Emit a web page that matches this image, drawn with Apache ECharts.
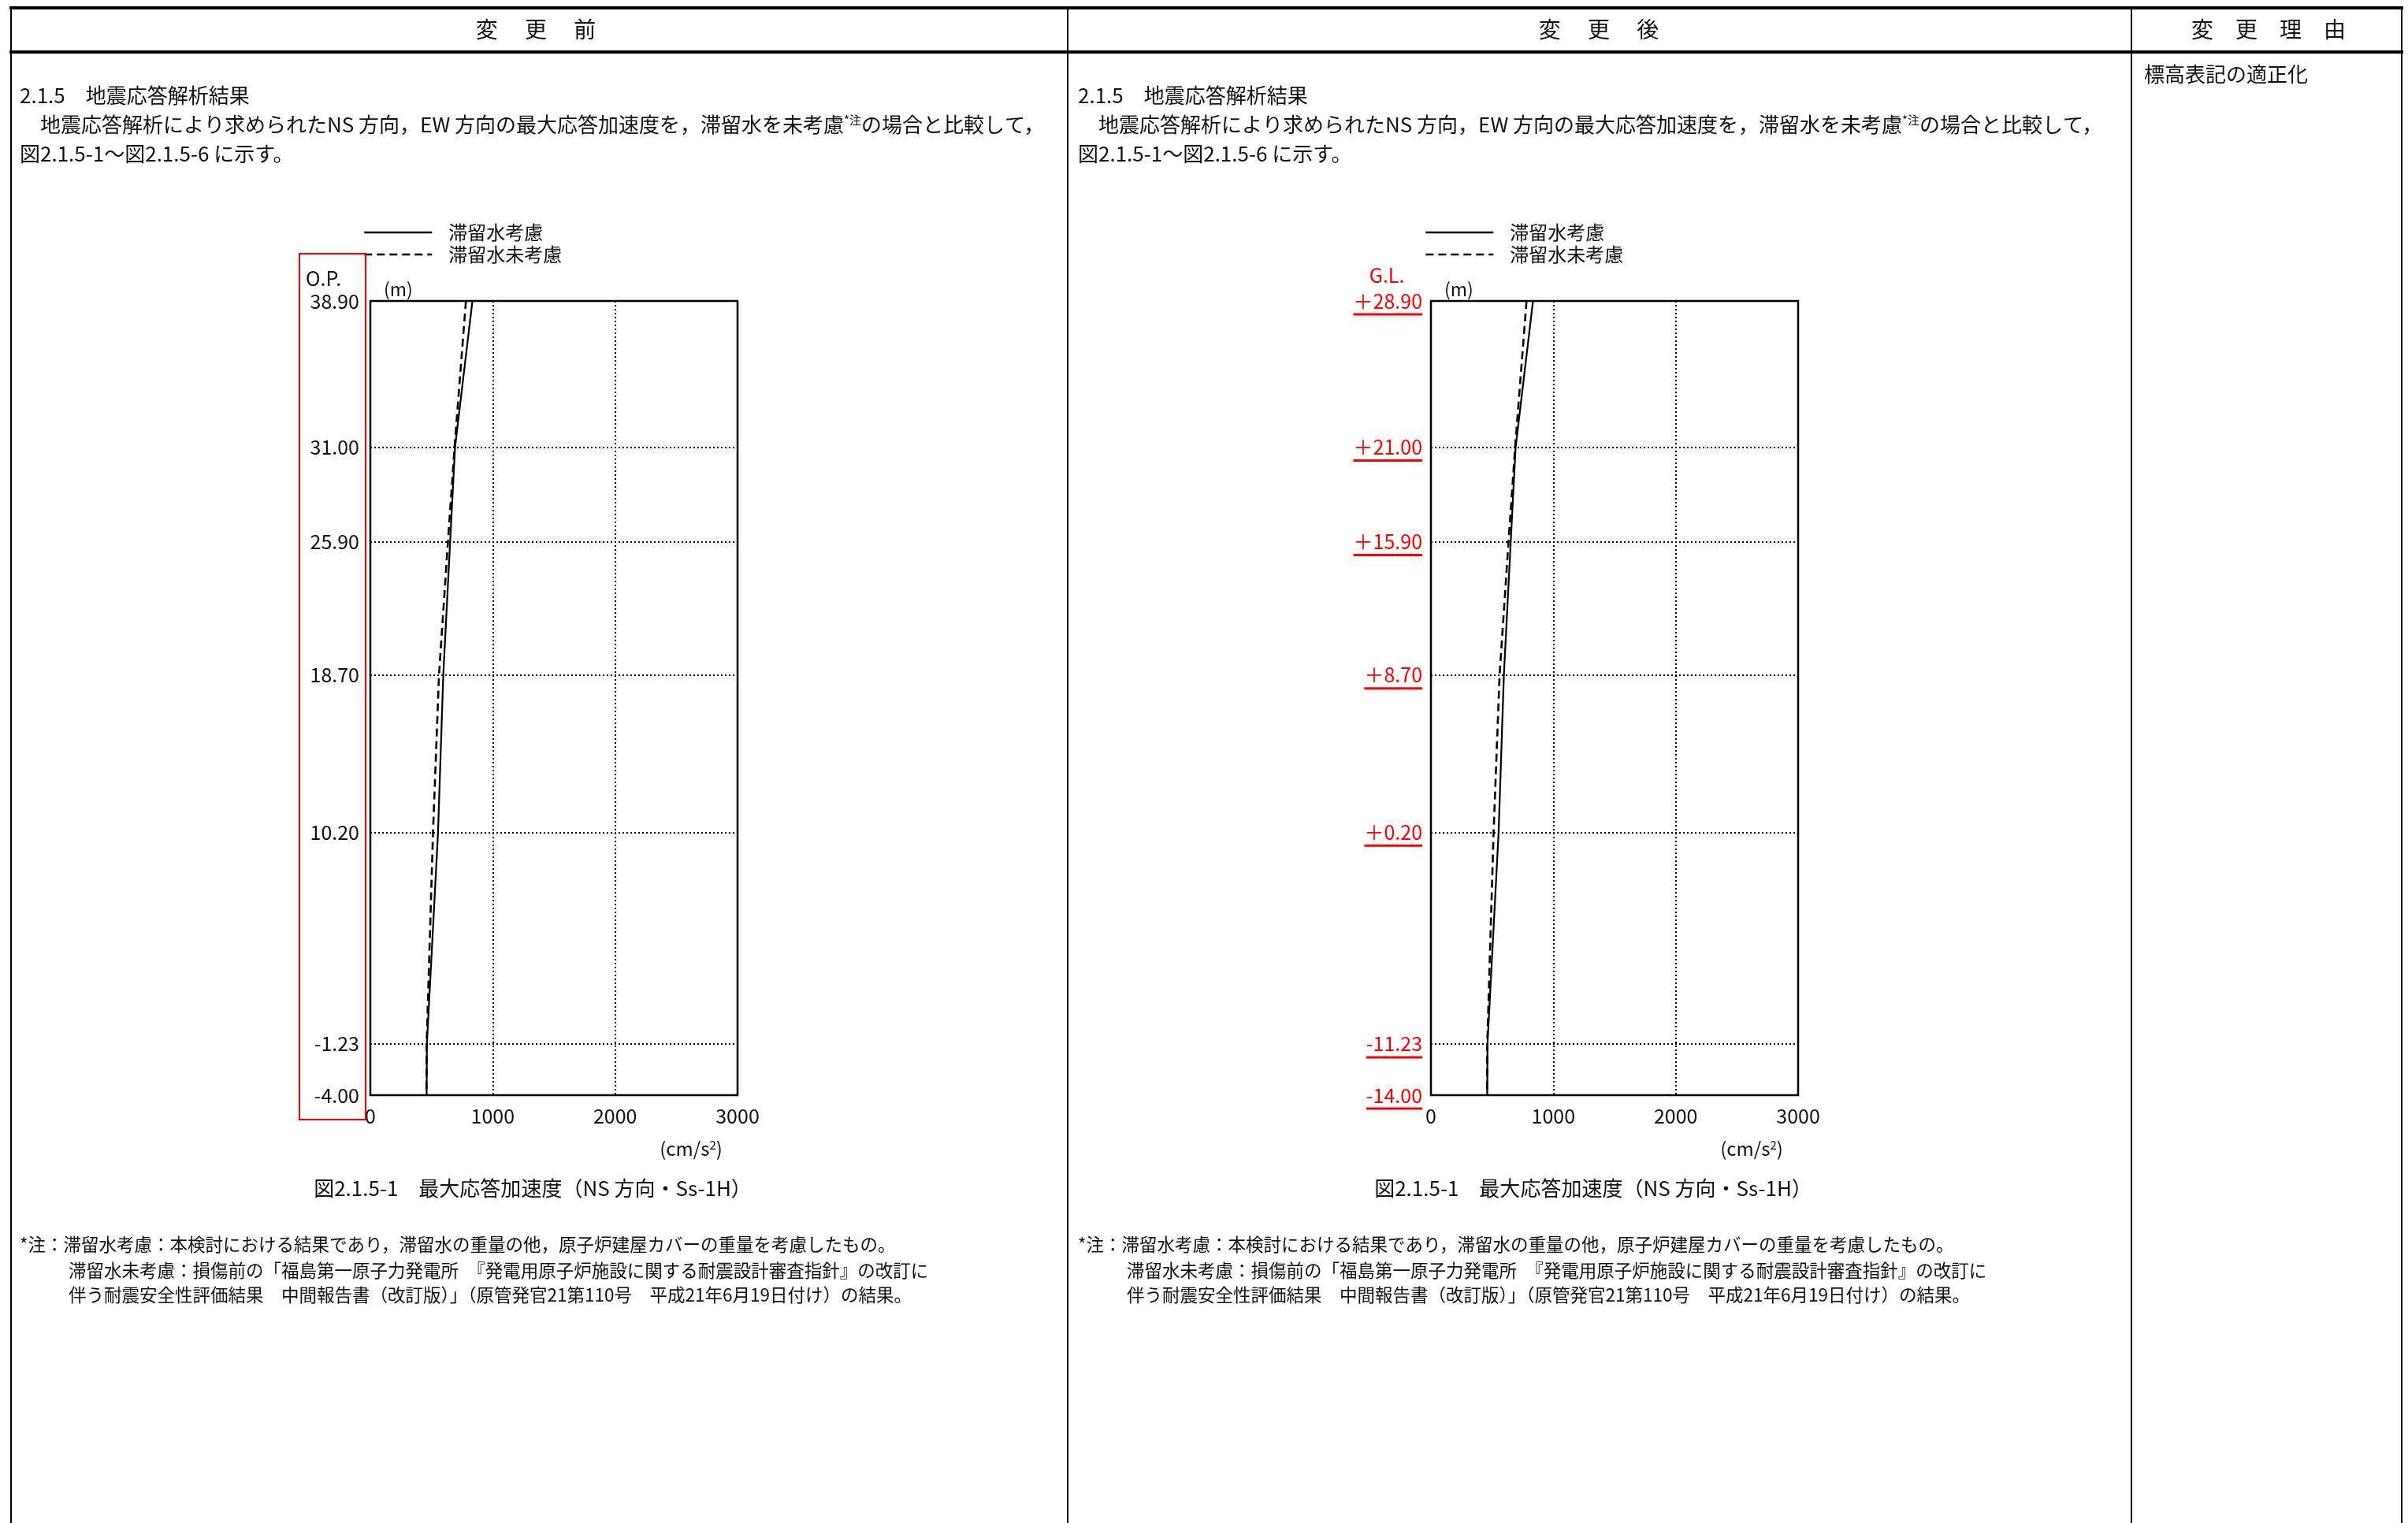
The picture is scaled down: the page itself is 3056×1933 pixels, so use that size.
<!DOCTYPE html>
<html>
<head>
<meta charset="utf-8">
<script src="https://cdn.jsdelivr.net/npm/echarts@6/dist/echarts.min.js"></script>
<style>
html,body{margin:0;padding:0;background:#fff;}
#main{width:3056px;height:1933px;}
</style>
</head>
<body>
<div id="main"></div>
<script>
// ---- data ----
const seriesNames = ['滞留水考慮', '滞留水未考慮'];
const levelsOP = [38.90, 31.00, 25.90, 18.70, 10.20, -1.23, -4.00];   // 変更前 (O.P.)
const levelsGL = [28.90, 21.00, 15.90, 8.70, 0.20, -11.23, -14.00];   // 変更後 (G.L.)
const accelWith = [834, 692, 652, 596, 553, 462, 460];     // 滞留水考慮 (cm/s2)
const accelWithout = [781, 688, 634, 561, 512, 460, 458];  // 滞留水未考慮 (cm/s2)
const xTicks = [0, 1000, 2000, 3000];

const FONT = "'Noto Sans CJK JP', 'Noto Sans', sans-serif";
const chart = echarts.init(document.getElementById('main'), null, {renderer: 'canvas'});

function pairs(xs, ys) { return xs.map((x, i) => [x, ys[i]]); }

const GRIDS = [
  {left: 470, top: 382, width: 466, height: 1008},
  {left: 1816, top: 382, width: 466, height: 1008}
];

function fmtOP(v) { return v.toFixed(2); }
function fmtGL(v) {
  const s = Math.abs(v).toFixed(2);
  return v >= 0 ? '＋' + s : '-' + s;
}

function buildAxes(i, levels, red) {
  const x = {
    type: 'value', gridIndex: i, min: xTicks[0], max: xTicks[xTicks.length - 1], interval: 1000,
    axisLine: {show: false}, axisTick: {show: false},
    axisLabel: {fontFamily: FONT, fontSize: 25, color: '#111', margin: 14, formatter: v => String(v)},
    splitLine: {show: true, lineStyle: {color: '#000', type: [2, 3], width: 2}}
  };
  const y = {
    type: 'value', gridIndex: i, min: levels[levels.length - 1], max: levels[0],
    axisLine: {show: false}, axisTick: {show: false}, splitLine: {show: false},
    axisLabel: red ? {
      customValues: levels, margin: 11, fontFamily: FONT, padding: [6, 0, 0, 0],
      formatter: v => '{t|' + fmtGL(v) + '}\n{u|}',
      rich: {
        t: {fontFamily: FONT, fontSize: 25, color: '#ff0000', lineHeight: 28, align: 'right'},
        u: {height: 3, width: '100%', backgroundColor: '#ff0000', lineHeight: 6}
      }
    } : {
      customValues: levels, margin: 14, fontFamily: FONT, fontSize: 25, color: '#111',
      formatter: v => fmtOP(v)
    }
  };
  return {x, y};
}

const a0 = buildAxes(0, levelsOP, false);
const a1 = buildAxes(1, levelsGL, true);

function buildSeries(i, levels) {
  const gridLevels = levels.slice(1, levels.length - 1);
  return [
    {
      name: seriesNames[0], type: 'line', xAxisIndex: i, yAxisIndex: i,
      data: pairs(accelWith, levels), symbol: 'none', showSymbol: false,
      lineStyle: {color: '#000', width: 2.2, type: 'solid'}, itemStyle: {color: '#000'},
      z: 3, silent: true,
      markLine: {
        silent: true, symbol: 'none', label: {show: false},
        lineStyle: {color: '#000', type: [2, 3], width: 2},
        data: gridLevels.map(v => ({yAxis: v}))
      }
    },
    {
      name: seriesNames[1], type: 'line', xAxisIndex: i, yAxisIndex: i,
      data: pairs(accelWithout, levels), symbol: 'none', showSymbol: false,
      lineStyle: {color: '#000', width: 2.6, type: [10, 6]}, itemStyle: {color: '#000'},
      z: 3, silent: true
    }
  ];
}

function txt(x, y, text, opt) {
  opt = opt || {};
  return {
    type: 'text', x: x, y: y, silent: true,
    style: Object.assign({
      text: text, fontFamily: FONT, fontSize: 26, fill: '#111',
      align: 'left', verticalAlign: 'middle'
    }, opt)
  };
}
function line(x1, y1, x2, y2, w, color) {
  return {type: 'line', silent: true, shape: {x1, y1, x2, y2},
          style: {stroke: color || '#000', lineWidth: w}};
}

const supRich = {sup: {fontFamily: FONT, fontSize: 15, fill: '#111', verticalAlign: 'top', padding: [0, 0, 10, 0]}};
const bodyLine2 = '　地震応答解析により求められたNS 方向，EW 方向の最大応答加速度を，滞留水を未考慮{sup|*注}の場合と比較して，';

function columnTexts(x0) {
  const els = [];
  els.push(txt(x0, 121, '2.1.5　地震応答解析結果'));
  els.push(txt(x0, 158, bodyLine2, {rich: supRich}));
  els.push(txt(x0, 195, '図2.1.5-1～図2.1.5-6 に示す。'));
  // footnotes
  els.push(txt(x0, 1579, '*注：滞留水考慮：本検討における結果であり，滞留水の重量の他，原子炉建屋カバーの重量を考慮したもの。', {fontSize: 22.5}));
  els.push(txt(x0 + 62, 1612, '滞留水未考慮：損傷前の「福島第一原子力発電所　『発電用原子炉施設に関する耐震設計審査指針』の改訂に', {fontSize: 22.5}));
  els.push(txt(x0 + 62, 1643, '伴う耐震安全性評価結果　中間報告書（改訂版）」（原管発官21第110号　平成21年6月19日付け）の結果。', {fontSize: 22.5}));
  return els;
}

function chartTexts(g) {
  const els = [];
  els.push(txt(g.left + 17, 367, '(m)', {fontSize: 23}));
  els.push(txt(g.left + 407, 1458, '(cm/s{s|2})', {fontSize: 24, align: 'center',
    rich: {s: {fontFamily: FONT, fontSize: 15, fill: '#111', verticalAlign: 'top', padding: [0, 0, 8, 0]}}}));
  els.push(txt(g.left + 206, 1508, '図2.1.5-1　最大応答加速度（NS 方向・Ss-1H）', {align: 'center'}));
  return els;
}

const graphics = [];
// table frame
graphics.push(line(12, 10, 3050, 10, 4));
graphics.push(line(12, 66, 3050, 66, 4));
[14, 1355, 2705, 3048].forEach(x => graphics.push(line(x, 8, x, 1933, 2)));
// headers
graphics.push(txt(680, 37, '変\u3000 更\u3000 前', {align: 'center', fontSize: 28}));
graphics.push(txt(2029, 37, '変\u3000 更\u3000 後', {align: 'center', fontSize: 28}));
graphics.push(txt(2879, 37, '変\u3000更\u3000理\u3000由', {align: 'center', fontSize: 28}));
graphics.push(txt(2721, 94, '標高表記の適正化'));
columnTexts(25).forEach(e => graphics.push(e));
columnTexts(1368).forEach(e => graphics.push(e));
chartTexts(GRIDS[0]).forEach(e => graphics.push(e));
chartTexts(GRIDS[1]).forEach(e => graphics.push(e));
// level labels
graphics.push(txt(388, 353, 'O.P.', {fontSize: 25}));
graphics.push(txt(1760, 349, 'G.L.', {fontSize: 25, fill: '#ff0000', align: 'center'}));
// red highlight frame (変更前)
graphics.push({type: 'rect', silent: true, shape: {x: 380, y: 322, width: 84, height: 1099},
  style: {stroke: '#ff0000', lineWidth: 2, fill: null}, z: 10});

function legendFor(left) {
  return {
    data: seriesNames, orient: 'vertical', left: left, top: 278,
    itemWidth: 86, itemHeight: 22, itemGap: 4, selectedMode: false,
    itemStyle: {opacity: 0},
    lineStyle: {width: 2.6},
    textStyle: {fontFamily: FONT, fontSize: 24, color: '#111', padding: [0, 0, 0, 16]}
  };
}

const option = {
  backgroundColor: '#fff',
  animation: false,
  grid: GRIDS.map(g => Object.assign({show: true, borderColor: '#000', borderWidth: 2.5, backgroundColor: 'transparent', containLabel: false}, g)),
  legend: [legendFor(456), legendFor(1803)],
  xAxis: [a0.x, a1.x],
  yAxis: [a0.y, a1.y],
  series: buildSeries(0, levelsOP).concat(buildSeries(1, levelsGL)),
  graphic: graphics
};
chart.setOption(option);
</script>
</body>
</html>
